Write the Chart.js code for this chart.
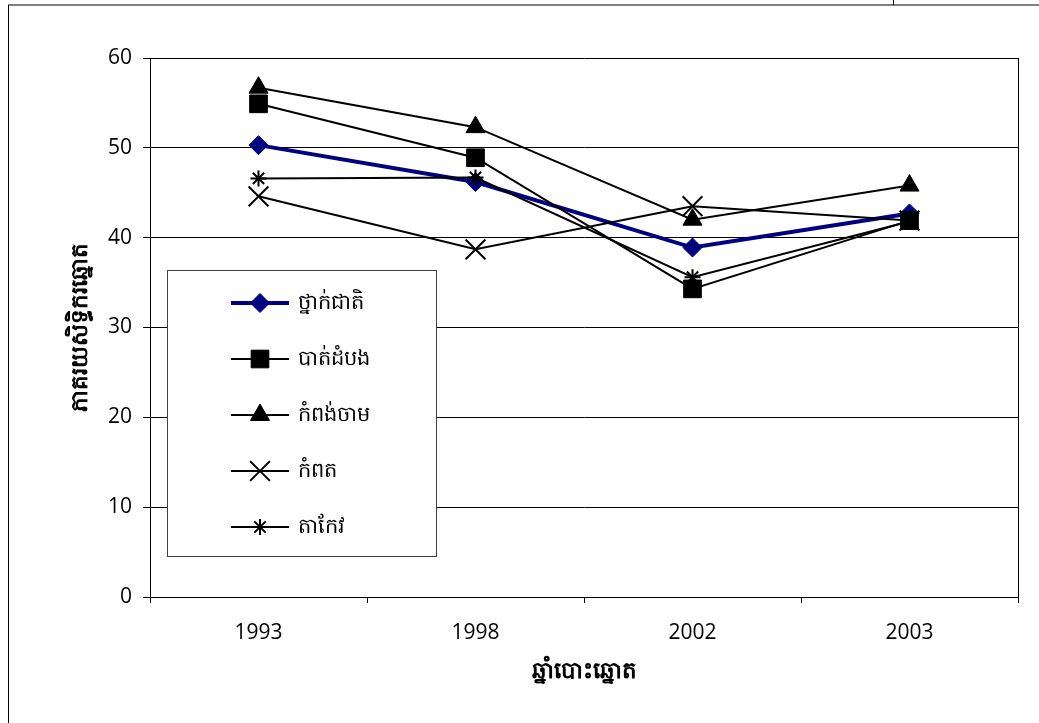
<!DOCTYPE html>
<html>
<head>
<meta charset="utf-8">
<script src="https://cdn.jsdelivr.net/npm/chart.js@4/dist/chart.umd.min.js"></script>
<style>
  html, body { margin: 0; padding: 0; background: #fff; }
  #wrap { width: 1039px; height: 723px; }
</style>
</head>
<body>
<div id="wrap"><canvas id="turnout" width="1039" height="723"></canvas></div>
<script>
// election years (x axis)
const years = ["1993", "1998", "2002", "2003"];

// series names
const seriesNames = ["ថ្នាក់ជាតិ", "បាត់ដំបង", "កំពង់ចាម", "កំពត", "តាកែវ"];

// values (percent)
const national    = [50.3, 46.2, 38.9, 42.7];
const battambang  = [54.9, 48.9, 34.3, 41.9];
const kampongCham = [56.7, 52.3, 42.0, 45.8];
const kampot      = [44.6, 38.7, 43.5, 41.9];
const takeo       = [46.6, 46.7, 35.6, 41.8];

const yTicks = [0, 10, 20, 30, 40, 50, 60];

const yTitle = "ភាគរយសិទ្ធិករឆ្នោត";
const xTitle = "ឆ្នាំបោះឆ្នោត";

const khmerFont = "'Noto Sans', 'DejaVu Sans', sans-serif";
const numFont = "'Open Sans', 'DejaVu Sans', sans-serif";

function series(label, data, color, style, radius, lineWidth, order) {
    const cross = style === "crossRot" || style === "star";
    return {
        label: label,
        data: data,
        borderColor: color,
        backgroundColor: color,
        borderWidth: lineWidth,
        pointStyle: style,
        pointRadius: radius,
        pointHoverRadius: radius,
        pointBackgroundColor: color,
        pointBorderColor: color,
        pointBorderWidth: cross ? 2 : 1,
        tension: 0,
        fill: false,
        order: order
    };
}

// frame, right border of plot and the boxed legend
const framePlugin = {
    id: "frame",
    beforeDraw(chart) {
        const ctx = chart.ctx;
        ctx.save();
        ctx.fillStyle = "#fff";
        ctx.fillRect(0, 0, chart.width, chart.height);
        ctx.restore();
    },
    afterDraw(chart) {
        const ctx = chart.ctx;
        const a = chart.chartArea;
        ctx.save();
        // outer frame
        ctx.strokeStyle = "#808080";
        ctx.lineWidth = 2;
        ctx.beginPath();
        ctx.moveTo(8, 5);
        ctx.lineTo(chart.width, 5);
        ctx.stroke();
        ctx.strokeStyle = "#000";
        ctx.lineWidth = 1;
        ctx.beginPath();
        ctx.moveTo(8.5, 5);
        ctx.lineTo(8.5, chart.height);
        ctx.moveTo(893.5, 0);
        ctx.lineTo(893.5, 5);
        ctx.stroke();
        // right side of plot area
        const rx = Math.round(a.right) + 0.5;
        ctx.beginPath();
        ctx.moveTo(rx, a.top);
        ctx.lineTo(rx, a.bottom);
        ctx.stroke();

        // legend box
        const bx = 167.5, by = 270.5, bw = 269, bh = 286;
        ctx.fillStyle = "#fff";
        ctx.fillRect(bx, by, bw, bh);
        ctx.strokeStyle = "#404040";
        ctx.lineWidth = 1;
        ctx.strokeRect(bx, by, bw, bh);

        const rows = [303, 359, 415, 471, 527];
        chart.data.datasets.forEach((ds, i) => {
            const y = rows[i];
            ctx.strokeStyle = ds.borderColor;
            ctx.fillStyle = ds.backgroundColor;
            ctx.lineWidth = ds.borderWidth;
            ctx.beginPath();
            ctx.moveTo(231, y);
            ctx.lineTo(289, y);
            ctx.stroke();
            ctx.lineWidth = ds.pointBorderWidth;
            Chart.helpers.drawPoint(ctx, {
                pointStyle: ds.pointStyle,
                radius: ds.pointRadius,
                rotation: 0,
                borderWidth: ds.pointBorderWidth
            }, 260, y);
            ctx.fillStyle = "#000";
            ctx.font = "21px " + khmerFont;
            ctx.textAlign = "left";
            ctx.textBaseline = "middle";
            ctx.fillText(ds.label, 298, y);
        });
        ctx.restore();
    }
};

new Chart(document.getElementById("turnout").getContext("2d"), {
    type: "line",
    data: {
        labels: years,
        datasets: [
            series(seriesNames[0], national, "#000080", "rectRot", 9.5, 4, 5),
            series(seriesNames[1], battambang, "#000", "rect", 12.5, 2, 4),
            series(seriesNames[2], kampongCham, "#000", "triangle", 11, 2, 3),
            series(seriesNames[3], kampot, "#000", "crossRot", 14, 2, 2),
            series(seriesNames[4], takeo, "#000", "star", 8, 2, 1)
        ]
    },
    options: {
        responsive: false,
        devicePixelRatio: 1,
        animation: false,
        events: [],
        layout: { padding: { left: 0, top: 58, right: 21, bottom: 0 } },
        plugins: {
            legend: { display: false },
            tooltip: { enabled: false }
        },
        scales: {
            x: {
                type: "category",
                offset: true,
                afterFit: s => { s.height = 126; },
                grid: {
                    offset: true,
                    drawOnChartArea: false,
                    drawTicks: true,
                    tickLength: 6,
                    color: "#000",
                    lineWidth: 1
                },
                border: { display: true, color: "#000", width: 1 },
                ticks: {
                    color: "#000",
                    padding: 17,
                    font: { family: numFont, size: 21 }
                },
                title: {
                    display: true,
                    text: xTitle,
                    color: "#000",
                    padding: { top: 0, bottom: 38 },
                    font: { family: khmerFont, size: 23, weight: "bold" }
                }
            },
            y: {
                min: 0,
                max: 60,
                afterFit: s => { s.width = 150; },
                afterBuildTicks: s => { s.ticks = yTicks.map(v => ({ value: v })); },
                grid: {
                    color: "#000",
                    lineWidth: 1,
                    drawTicks: true,
                    tickLength: 7
                },
                border: { display: true, color: "#000", width: 1 },
                ticks: {
                    color: "#000",
                    padding: 11,
                    font: { family: numFont, size: 21 }
                },
                title: {
                    display: true,
                    text: yTitle,
                    color: "#000",
                    padding: { top: 67, bottom: 0 },
                    font: { family: khmerFont, size: 23, weight: "bold" }
                }
            }
        }
    },
    plugins: [framePlugin]
});
</script>
</body>
</html>
